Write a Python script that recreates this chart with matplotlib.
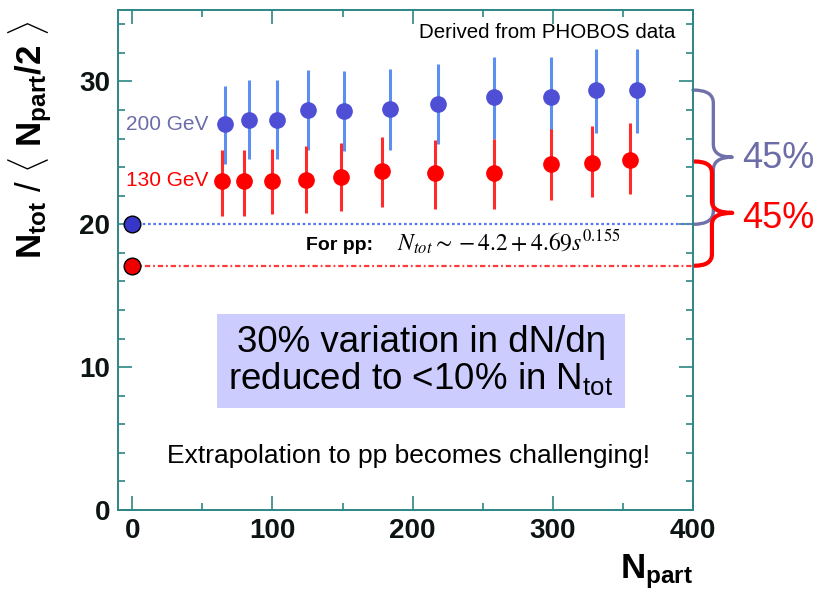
import matplotlib
matplotlib.use("Agg")
import matplotlib.pyplot as plt
from matplotlib.path import Path
from matplotlib.patches import PathPatch
from matplotlib.ticker import MultipleLocator

plt.rcParams["font.family"] = ["Liberation Sans", "DejaVu Sans"]
plt.rcParams["mathtext.fontset"] = "custom"
plt.rcParams["mathtext.rm"] = "Liberation Sans"
plt.rcParams["mathtext.it"] = "Liberation Sans:italic"
plt.rcParams["mathtext.bf"] = "Liberation Sans:bold"

# --- data ---
npart_200 = [66, 83, 103, 125, 151, 184, 218, 258, 299, 331, 360]
ntot_200 = [27.0, 27.3, 27.3, 28.0, 27.9, 28.1, 28.4, 28.9, 28.9, 29.4, 29.4]
err_200_lo = [2.8, 2.7, 2.7, 2.8, 2.8, 2.9, 2.8, 2.9, 2.3, 3.0, 3.0]
err_200_hi = [2.7, 2.8, 2.8, 2.8, 2.8, 2.8, 2.8, 2.8, 2.8, 2.9, 2.9]

npart_130 = [64, 80, 100, 124, 149, 178, 216, 258, 299, 328, 355]
ntot_130 = [23.0, 23.0, 23.0, 23.1, 23.3, 23.7, 23.6, 23.6, 24.2, 24.3, 24.5]
err_130_lo = [2.4, 2.4, 2.3, 2.3, 2.4, 2.5, 2.5, 2.5, 2.5, 2.4, 2.4]
err_130_hi = [2.2, 2.2, 2.3, 2.35, 2.4, 2.4, 2.3, 2.4, 2.5, 2.55, 2.6]

pp_200 = 20.0
pp_130 = 17.1

SPINE = "#2e8585"
BLUE = "#4f4fd6"
BLUE_ERR = "#5b8ff0"
RED = "#ff0000"
SLATE = "#6c6ca8"


def brace(ax, x0, xm, xt, y_top, y_bot, y_tip, r, color, lw):
    verts = [(x0, y_top), (xm, y_top), (xm, y_top - r),
             (xm, y_tip + r), (xm, y_tip), (xt, y_tip),
             (xm, y_tip), (xm, y_tip - r),
             (xm, y_bot + r), (xm, y_bot), (x0, y_bot)]
    codes = [Path.MOVETO, Path.CURVE3, Path.CURVE3,
             Path.LINETO, Path.CURVE3, Path.CURVE3,
             Path.CURVE3, Path.CURVE3,
             Path.LINETO, Path.CURVE3, Path.CURVE3]
    ax.add_patch(PathPatch(Path(verts, codes), fill=False, ec=color, lw=lw,
                           clip_on=False, capstyle="round", joinstyle="round"))


fig = plt.figure(figsize=(8.21, 6.01), dpi=100)
ax = fig.add_axes([0.1441, 0.1514, 0.7000, 0.8319])
ax.set_xlim(-10, 400)
ax.set_ylim(0, 35)

# pp reference lines
ax.plot([0, 400], [pp_200, pp_200], color="#5a78e6", lw=1.6,
        ls=(0, (1.2, 1.2)), zorder=2)
ax.plot([0, 400], [pp_130, pp_130], color="#ff3a3a", lw=1.6,
        ls=(0, (2.4, 1.3, 0.8, 1.3)), zorder=2)
ax.plot([0], [pp_200], "o", ms=12, mfc="#3636c8", mec="black", mew=1.0, zorder=5)
ax.plot([0], [pp_130], "o", ms=12, mfc="#ee0000", mec="black", mew=1.0, zorder=5)

ax.errorbar(npart_200, ntot_200, yerr=[err_200_lo, err_200_hi], fmt="o",
            ms=11, color=BLUE, ecolor=BLUE_ERR, elinewidth=2.2, capsize=0, zorder=4)
ax.errorbar(npart_130, ntot_130, yerr=[err_130_lo, err_130_hi], fmt="o",
            ms=11, color=RED, ecolor="#ff2a2a", elinewidth=2.2, capsize=0, zorder=4)

# axes styling
for sp in ax.spines.values():
    sp.set_color(SPINE)
    sp.set_linewidth(1.4)
ax.xaxis.set_major_locator(MultipleLocator(100))
ax.xaxis.set_minor_locator(MultipleLocator(50))
ax.yaxis.set_major_locator(MultipleLocator(10))
ax.yaxis.set_minor_locator(MultipleLocator(2))
ax.tick_params(which="both", direction="in", top=True, right=True,
               color=SPINE, width=1.2)
ax.tick_params(which="major", length=10)
ax.tick_params(which="minor", length=5)
ax.tick_params(axis="x", pad=6)
ax.tick_params(axis="y", pad=6)
for lab in ax.get_xticklabels() + ax.get_yticklabels():
    lab.set_fontsize(20)
    lab.set_fontweight("bold")
    lab.set_color("#0d1414")

ax.set_xlabel(r"$\mathbf{N_{part}}$", fontsize=25, ha="right", va="top")
ax.xaxis.set_label_coords(1.0, -0.085)
ax.set_ylabel(r"$\mathbf{N_{tot}}\ /\ \langle\ \mathbf{N_{part}/2}\ \rangle$",
              fontsize=25, va="center")
ax.yaxis.set_label_coords(-0.154, 0.74)

# annotations
ax.text(296, 33.4, "Derived from PHOBOS data", fontsize=14.8, ha="center", va="center")
ax.text(54, 27.0, "200 GeV", fontsize=15, color=SLATE, ha="right", va="center")
ax.text(54, 23.1, "130 GeV", fontsize=15, color=RED, ha="right", va="center")
ax.text(124, 18.5, "For pp:", fontsize=14, fontweight="bold", ha="left", va="center")
ax.text(189, 18.7, r"$N_{tot}\sim -4.2+4.69s^{0.155}$", fontsize=17,
        math_fontfamily="stix", ha="left", va="center")
ax.text(206, 10.45, "30% variation in dN/dη\nreduced to <10% in N$_{\\mathrm{tot}}$",
        fontsize=26.5, ha="center", va="center", multialignment="center",
        linespacing=1.0,
        bbox=dict(boxstyle="square,pad=0.3", fc="#ccccff", ec="none"))
ax.text(197, 3.8, "Extrapolation to pp becomes challenging!", fontsize=19,
        ha="center", va="center")

# braces and percentages
brace(ax, 400, 414.5, 428, 29.4, 20.0, 24.7, 0.9, "#7171aa", 2.4)
brace(ax, 401, 413.5, 428, 24.4, 17.1, 20.8, 0.8, RED, 3.0)
ax.text(435, 24.6, "45%", fontsize=26, color=SLATE, ha="left", va="center", clip_on=False)
ax.text(435, 20.4, "45%", fontsize=26, color=RED, ha="left", va="center", clip_on=False)

fig.savefig("out.png", dpi=100)
